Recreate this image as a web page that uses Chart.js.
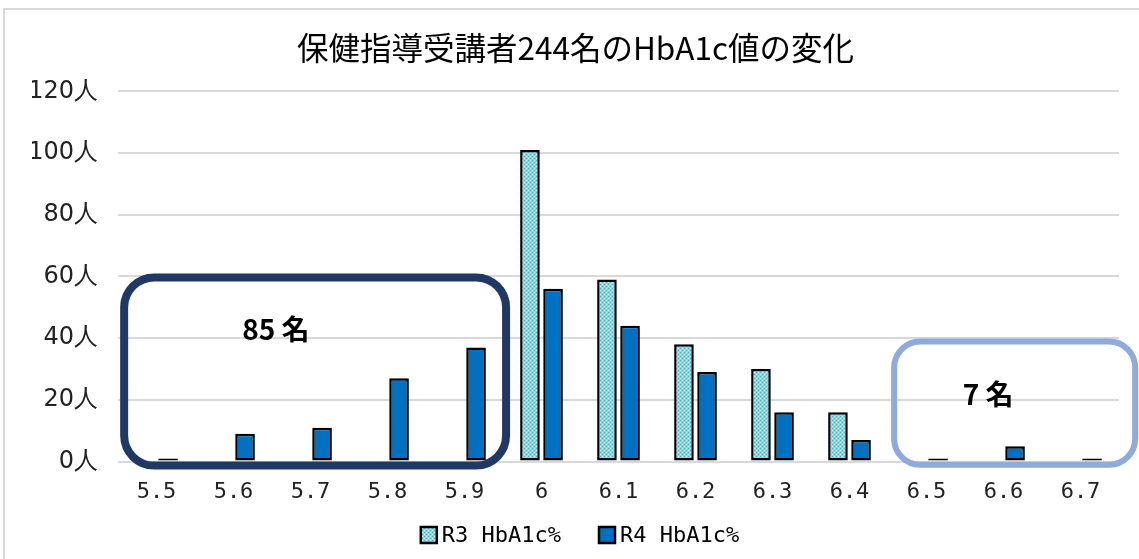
<!DOCTYPE html>
<html>
<head>
<meta charset="utf-8">
<script src="https://cdn.jsdelivr.net/npm/chart.js@4/dist/chart.umd.min.js"></script>
<style>
  html, body { margin: 0; padding: 0; background: #fff; }
  #wrap { position: relative; width: 1139px; height: 559px; }
  #frame { position: absolute; left: 3px; top: 8px; width: 1200px; height: 600px;
           border-top: 2px solid #d9d9d9; border-left: 2px solid #d9d9d9; pointer-events: none; }
</style>
</head>
<body>
<div id="wrap">
  <canvas id="grafica"></canvas>
  <div id="frame"></div>
</div>
<script>
const labels = ['5.5', '5.6', '5.7', '5.8', '5.9', '6', '6.1', '6.2', '6.3', '6.4', '6.5', '6.6', '6.7']
const r3Values = [0, 0, 0, 0, 0, 101, 59, 38, 30, 16, 0, 0, 0]
const r4Values = [1, 9, 11, 27, 37, 56, 44, 29, 16, 7, 1, 5, 1]
const yTicks = [0, 20, 40, 60, 80, 100, 120]

// boxes: category index range and value range
const boxes = [
	{ from: -0.42, to: 4.54, top: 59.7, bottom: -1.3, text: '85 名', tx: 1.55, ty: 42.8, color: '#1f3864', width: 8, radius: 30 },
	{ from: 9.58, to: 12.71, top: 38.9, bottom: -1.0, text: '7 名', tx: 10.8, ty: 21.7, color: '#8faadc', width: 6, radius: 26 }
]

// dotted light blue fill for R3
function makePattern() {
	const c = document.createElement('canvas');
	c.width = 4; c.height = 4;
	const p = c.getContext('2d');
	p.fillStyle = '#8cd5ec';
	p.fillRect(0, 0, 4, 4);
	p.fillStyle = '#3cafd8';
	p.fillRect(0, 0, 1, 1);
	p.fillRect(2, 2, 1, 1);
	p.fillStyle = '#d0f0f9';
	p.fillRect(2, 0, 1, 1);
	p.fillRect(0, 2, 1, 1);
	return p.createPattern(c, 'repeat');
}

const boxPlugin = {
	id: 'boxes',
	afterDatasetsDraw(chart) {
		const ctx = chart.ctx;
		const x = chart.scales.x;
		const y = chart.scales.y;
		const x0 = x.getPixelForValue(0);
		const step = x.getPixelForValue(1) - x0;
		boxes.forEach(b => {
			const l = x0 + b.from * step;
			const r = x0 + b.to * step;
			const t = y.getPixelForValue(b.top);
			const btm = y.getPixelForValue(b.bottom);
			ctx.save();
			ctx.strokeStyle = b.color;
			ctx.lineWidth = b.width;
			ctx.beginPath();
			ctx.roundRect(l, t, r - l, btm - t, b.radius);
			ctx.stroke();
			ctx.fillStyle = '#000';
			ctx.font = 'bold 28px "Noto Sans CJK JP"';
			ctx.textAlign = 'center';
			ctx.textBaseline = 'middle';
			ctx.fillText(b.text, x0 + b.tx * step, y.getPixelForValue(b.ty));
			ctx.restore();
		});
	}
};

// legend drawn by hand so the spacing matches
const legendPlugin = {
	id: 'myLegend',
	afterDraw(chart) {
		const ctx = chart.ctx;
		const sets = chart.data.datasets;
		ctx.save();
		ctx.font = '22px "DejaVu Sans Mono"';
		ctx.textBaseline = 'middle';
		const box = 16, gap = 5, itemGap = 38;
		const widths = sets.map(d => box + gap + ctx.measureText(d.label).width);
		let total = widths.reduce((a, b) => a + b, 0) + itemGap * (sets.length - 1);
		let cx = 580 - total / 2;
		const cy = 535;
		sets.forEach((d, i) => {
			ctx.fillStyle = d.backgroundColor;
			ctx.fillRect(cx, cy - box / 2, box, box);
			ctx.strokeStyle = '#000';
			ctx.lineWidth = 2.5;
			ctx.strokeRect(cx, cy - box / 2, box, box);
			ctx.fillStyle = '#000';
			ctx.fillText(d.label, cx + box + gap, cy + 1);
			cx += widths[i] + itemGap;
		});
		ctx.restore();
	}
};

const graph = document.querySelector('#grafica');

const data = {
	labels: labels,
	datasets: [{
		label: 'R3 HbA1c%',
		data: r3Values,
		backgroundColor: makePattern(),
		borderColor: '#000',
		borderWidth: 2.5,
		borderSkipped: false,
		categoryPercentage: 0.6,
		barPercentage: 0.85
	}, {
		label: 'R4 HbA1c%',
		data: r4Values,
		backgroundColor: '#0070c0',
		borderColor: '#000',
		borderWidth: 2.5,
		borderSkipped: false,
		categoryPercentage: 0.6,
		barPercentage: 0.85
	}]
};

const config = {
	type: 'bar',
	data: data,
	plugins: [boxPlugin, legendPlugin],
	options: {
		responsive: true,
		maintainAspectRatio: false,
		animation: false,
		layout: { padding: { left: 32, right: 20, top: 0, bottom: 37 } },
		plugins: {
			title: {
				display: true,
				text: '保健指導受講者244名のHbA1c値の変化',
				color: '#000',
				font: { family: '"Noto Sans CJK JP"', size: 31.5, weight: 'normal' },
				padding: { top: 29, bottom: 24.5 }
			},
			legend: { display: false },
			tooltip: { enabled: false }
		},
		scales: {
			x: {
				grid: { display: false, drawTicks: false },
				border: { display: false },
				ticks: {
					color: '#222',
					font: { family: '"DejaVu Sans Mono"', size: 22 },
					padding: 17,
					maxRotation: 0
				}
			},
			y: {
				min: 0,
				max: 120,
				afterBuildTicks(axis) { axis.ticks = yTicks.map(v => ({ value: v })); },
				afterFit(axis) { axis.width = 86; },
				grid: { color: '#d9d9d9', lineWidth: 2, drawTicks: false },
				border: { display: false },
				ticks: {
					color: '#222',
					font: { family: '"DejaVu Sans"', size: 24 },
					padding: 20,
					callback: v => v + '人'
				}
			}
		}
	}
};
new Chart(graph, config);
</script>
</body>
</html>
